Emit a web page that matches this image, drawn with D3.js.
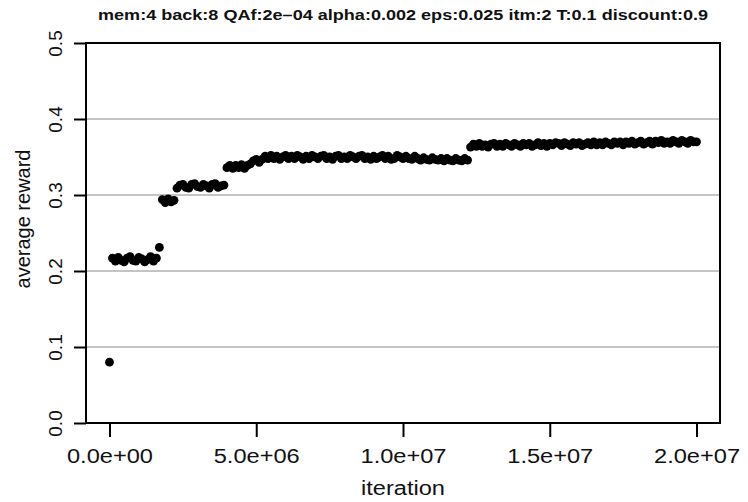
<!DOCTYPE html>
<html>
<head>
<meta charset="utf-8">
<script src="https://cdn.jsdelivr.net/npm/d3@7"></script>
<style>
  html,body{margin:0;padding:0;background:#fff;}
  svg{display:block;font-family:"Liberation Sans",Arial,Helvetica,sans-serif;}
</style>
</head>
<body>
<svg id="chart" width="748" height="502"></svg>
<script>
/* average reward vs iteration -- R style scatter, points every 1e5 iterations */

var titleText='mem:4 back:8 QAf:2e\u201304 alpha:0.002 eps:0.025 itm:2 T:0.1 discount:0.9';
var iterStep=1e5;
var rewards=[
  0.080,
  0.217,0.213,0.218,0.214,0.212,0.217,0.219,0.214,0.213,0.218,0.216,0.212,0.215,0.219,0.213,0.217,
  0.231,
  0.294,0.290,0.295,0.291,0.293,
  0.309,0.313,0.314,0.310,0.309,0.314,0.315,0.311,0.310,0.314,0.312,0.309,0.314,0.315,0.310,0.312,0.313,
  0.336,0.339,0.335,0.339,0.336,0.340,0.335,0.339,
  0.341,0.345,0.347,0.343,
  0.347,0.351,0.348,0.352,0.348,0.351,0.347,0.350,0.352,0.348,
  0.351,0.348,0.352,0.350,0.347,0.351,0.348,0.352,0.350,0.348,
  0.351,0.352,0.348,0.350,0.347,0.351,0.352,0.348,0.350,0.348,
  0.352,0.350,0.348,0.351,0.352,0.348,0.350,0.347,0.351,0.348,
  0.350,0.352,0.348,0.351,0.347,0.348,0.352,0.350,0.348,0.351,
  0.348,0.347,0.351,0.348,0.346,0.349,0.347,0.346,0.349,0.347,
  0.346,0.348,0.345,0.348,0.346,0.345,0.348,0.346,0.345,0.348,0.346,
  0.363,0.367,0.364,0.368,0.364,0.366,0.363,0.367,0.368,0.364,
  0.367,0.364,0.368,0.366,0.364,0.368,0.366,0.364,0.368,0.366,
  0.368,0.364,0.366,0.369,0.365,0.368,0.364,0.368,0.366,0.369,
  0.368,0.365,0.369,0.367,0.365,0.369,0.367,0.369,0.365,0.367,
  0.369,0.366,0.370,0.366,0.369,0.366,0.370,0.368,0.366,0.370,
  0.368,0.370,0.366,0.370,0.368,0.371,0.367,0.369,0.371,0.367,
  0.369,0.371,0.367,0.371,0.369,0.372,0.368,0.370,0.368,0.372,
  0.370,0.368,0.372,0.370,0.368,0.372,0.370,0.370
];
var xTicks=[0,5e6,1e7,1.5e7,2e7];
var xTickLabels=['0.0e+00','5.0e+06','1.0e+07','1.5e+07','2.0e+07'];
var yTicks=[0,0.1,0.2,0.3,0.4,0.5];
var yTickLabels=['0.0','0.1','0.2','0.3','0.4','0.5'];
var gridVals=[0.1,0.2,0.3,0.4];

var ML=86, MR=720, MT=43, MB=423;

var svg=d3.select('#chart');
var xS=d3.scaleLinear().domain([-0.8e6,20.8e6]).range([ML,MR]);
var yS=d3.scaleLinear().domain([0,0.5]).range([MB,MT]);

/* grid */
svg.selectAll('line.grid').data(gridVals).enter().append('line').attr('class','grid')
  .attr('x1',ML).attr('x2',MR).attr('y1',function(d){return yS(d)}).attr('y2',function(d){return yS(d)})
  .attr('stroke','#c4c4c4').attr('stroke-width',2);

/* points */
svg.append('g').selectAll('circle').data(rewards).enter().append('circle')
  .attr('cx',function(d,i){return xS(i*iterStep)})
  .attr('cy',function(d){return yS(d)})
  .attr('r',4.4).attr('fill','#000');

/* box */
svg.append('rect').attr('x',ML).attr('y',MT).attr('width',MR-ML).attr('height',MB-MT)
  .attr('fill','none').attr('stroke','#000').attr('stroke-width',2);

/* x axis */
var gx=svg.append('g').attr('transform','translate(0,'+MB+')')
  .call(d3.axisBottom(xS).tickValues(xTicks).tickFormat(function(d,i){return xTickLabels[i]}).tickSize(14).tickPadding(12));
gx.select('.domain').remove();
gx.selectAll('.tick line').attr('stroke','#000').attr('stroke-width',2);
gx.selectAll('.tick text').attr('fill','#111').attr('font-size','20px').attr('font-family','Liberation Sans,Arial,sans-serif')
  .attr('y',40).attr('dy',0).attr('textLength',86).attr('lengthAdjust','spacingAndGlyphs');

/* y axis */
var gy=svg.append('g').attr('transform','translate('+ML+',0)')
  .call(d3.axisLeft(yS).tickValues(yTicks).tickFormat(function(d,i){return yTickLabels[i]}).tickSize(12));
gy.select('.domain').remove();
gy.selectAll('.tick line').attr('stroke','#000').attr('stroke-width',2);
gy.selectAll('.tick text').attr('fill','#111').attr('font-size','19px').attr('font-family','Liberation Sans,Arial,sans-serif')
  .attr('text-anchor','middle').attr('transform','rotate(-90)').attr('x',0).attr('y',-24).attr('dy',0);

/* axis titles */
svg.append('text').attr('x',(ML+MR)/2).attr('y',495).attr('text-anchor','middle')
  .attr('font-size','20px').attr('fill','#111').attr('textLength',84).attr('lengthAdjust','spacingAndGlyphs')
  .text('iteration');
svg.append('text').attr('transform','translate(30,219) rotate(-90)').attr('text-anchor','middle')
  .attr('font-size','20px').attr('fill','#111')
  .text('average reward');

/* title */
svg.append('text').attr('x',(ML+MR)/2).attr('y',20).attr('text-anchor','middle')
  .attr('font-size','15px').attr('font-weight','bold').attr('fill','#111')
  .attr('textLength',610).attr('lengthAdjust','spacingAndGlyphs')
  .text(titleText);
</script>
</body>
</html>
